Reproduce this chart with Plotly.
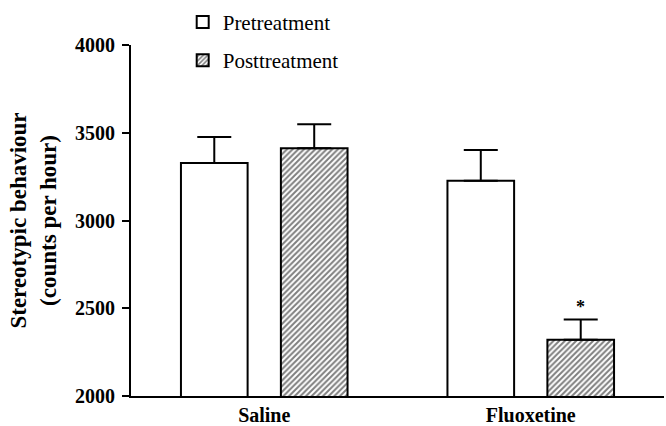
import plotly.graph_objects as go

categories = ["Saline", "Fluoxetine"]
pre_values = [3327, 3227]
pre_errors = [149, 175]
post_values = [3412, 2320]
post_errors = [136, 116]
series_names = ["Pretreatment", "Posttreatment"]
y_ticks = [2000, 2500, 3000, 3500, 4000]
sig_marker = "*"

FONT = "Liberation Serif, Times New Roman, serif"

fig = go.Figure()
fig.add_trace(go.Bar(
    x=categories, y=pre_values, name=series_names[0],
    marker=dict(color="white", line=dict(color="black", width=2)),
    error_y=dict(type="data", array=pre_errors, arrayminus=[0, 0], symmetric=False,
                 color="black", thickness=2, width=17),
    legendgroup="a",
))
fig.add_trace(go.Bar(
    x=categories, y=post_values, name=series_names[1],
    marker=dict(color="white", line=dict(color="black", width=2),
                pattern=dict(shape="/", fgcolor="black", bgcolor="white", size=4, solidity=0.5)),
    error_y=dict(type="data", array=post_errors, arrayminus=[0, 0], symmetric=False,
                 color="black", thickness=2, width=17),
    legendgroup="b",
))

fig.add_annotation(x=categories[1], y=post_values[1] + post_errors[1], text=sig_marker,
                   showarrow=False, xshift=50, yshift=0, yanchor="bottom",
                   font=dict(family=FONT, size=18, color="black", weight="bold"))

fig.update_layout(
    width=666, height=426,
    margin=dict(l=131, r=2, t=43, b=30),
    plot_bgcolor="white", paper_bgcolor="white",
    barmode="group", bargap=0.25, bargroupgap=0.333,
    font=dict(family=FONT, color="black"),
    showlegend=True,
    legend=dict(x=0.097, y=1.123, xanchor="left", yanchor="top",
                font=dict(family=FONT, size=21, color="black"),
                tracegroupgap=8, bgcolor="rgba(0,0,0,0)"),
    xaxis=dict(showline=True, linecolor="black", linewidth=2, ticks="",
               tickfont=dict(family=FONT, size=20, color="black", weight="bold"),
               range=[-0.5, 1.5], automargin=False),
    yaxis=dict(range=[2000, 4000], tickvals=y_ticks, showline=True, linecolor="black",
               linewidth=2, ticks="outside", ticklen=7, tickwidth=2, tickcolor="black",
               showgrid=False, zeroline=False, ticklabelstandoff=3, automargin=False,
               tickfont=dict(family=FONT, size=20, color="black", weight="bold"),
               title=dict(text="Stereotypic behaviour<br>(counts per hour)",
                          font=dict(family=FONT, size=23, color="black", weight="bold"),
                          standoff=12)),
)

fig.write_html("out.html")
